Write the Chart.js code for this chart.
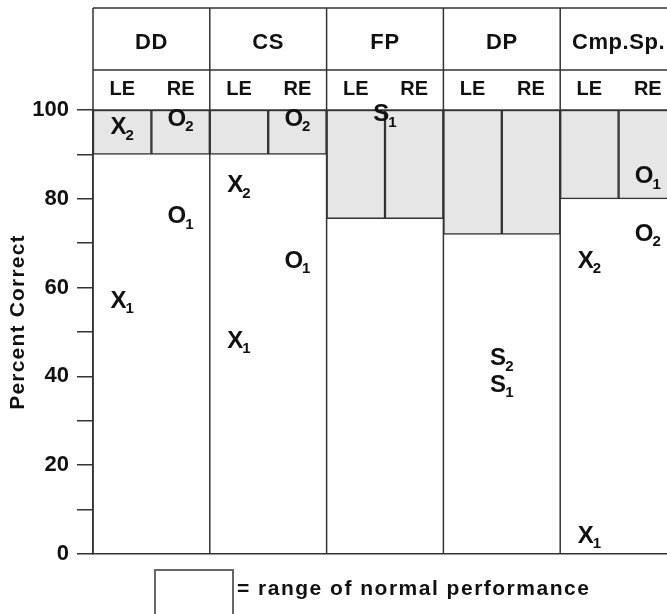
<!DOCTYPE html>
<html>
<head>
    <title>Percent Correct by Task</title>
    <meta charset="utf-8">
    <script src="https://cdn.jsdelivr.net/npm/chart.js"></script>
    <style>
        body {
            margin: 0;
            overflow: hidden;
            background: #fff;
        }

        #chart-container {
            width: 677px;
            height: 614px;
        }
    </style>
</head>
<body>
    <div id="chart-container">
        <canvas id="scores" width="677" height="614"></canvas>
    </div>
    <script>
        // Task groups, each split into left eye / right eye columns
        var groups = ['DD', 'CS', 'FP', 'DP', 'Cmp.Sp.'];
        var eyes = ['LE', 'RE'];

        // Lower edge of the shaded box (top is 100), LE then RE for each group
        var rangeLow = [90, 90, 90, 90, 75.5, 75.5, 72, 72, 80, 80];

        // Scores: X = left eye, O = right eye, S = both eyes
        var X1 = [57, 48, null, null, 4];
        var X2 = [96, 83, null, null, 66];
        var O1 = [76, 66, null, null, 85];
        var O2 = [98, 98, null, null, 72];
        var S1 = [null, null, 99, 38, null];
        var S2 = [null, null, null, 44, null];

        var FONT = '"Liberation Sans", Arial, sans-serif';
        var INK = '#111';
        var LINE = '#333';

        // column centre inside group i: LE = .25, RE = .75, both = .5
        function markData(values, offset) {
            var out = [];
            values.forEach(function (v, i) {
                if (v !== null) out.push({ x: i + offset, y: v });
            });
            return out;
        }

        function marks(letter, sub, values, offset) {
            return {
                type: 'scatter',
                letter: letter,
                sub: sub,
                data: markData(values, offset),
                pointRadius: 0,
                pointHoverRadius: 0,
                showLine: false
            };
        }

        var boxData = rangeLow.map(function (lo, k) {
            return { x: Math.floor(k / 2) + (k % 2 ? 0.75 : 0.25), y: [lo, 100] };
        });

        // Header rows, symbol labels, y title and the legend key
        var decorPlugin = {
            id: 'decor',
            afterDatasetsDraw: function (chart) {
                var ctx = chart.ctx;
                var area = chart.chartArea;
                var xs = chart.scales.x;
                var headTop = 8, headMid = 70, right = chart.width;

                ctx.save();
                ctx.strokeStyle = LINE;
                ctx.lineWidth = 1.5;
                ctx.beginPath();
                [headTop, headMid, area.top].forEach(function (y) {
                    ctx.moveTo(area.left, y);
                    ctx.lineTo(right, y);
                });
                for (var i = 0; i <= groups.length; i++) {
                    var px = xs.getPixelForValue(i);
                    ctx.moveTo(px, headTop);
                    ctx.lineTo(px, area.bottom);
                }
                ctx.stroke();

                ctx.fillStyle = INK;
                ctx.textAlign = 'center';
                ctx.textBaseline = 'middle';
                ctx.font = 'bold 22px ' + FONT;
                ctx.letterSpacing = '0.6px';
                groups.forEach(function (g, i) {
                    ctx.fillText(g, xs.getPixelForValue(i + 0.5), 43);
                });
                ctx.letterSpacing = '0px';
                ctx.font = 'bold 20px ' + FONT;
                groups.forEach(function (g, i) {
                    ctx.fillText(eyes[0], xs.getPixelForValue(i + 0.25), 89);
                    ctx.fillText(eyes[1], xs.getPixelForValue(i + 0.75), 89);
                });

                // symbol labels with subscripts
                chart.data.datasets.forEach(function (ds, d) {
                    if (!ds.letter) return;
                    chart.getDatasetMeta(d).data.forEach(function (pt) {
                        ctx.font = 'bold 24px ' + FONT;
                        var w1 = ctx.measureText(ds.letter).width;
                        ctx.font = 'bold 15px ' + FONT;
                        var w2 = ctx.measureText(ds.sub).width;
                        var x0 = pt.x - (w1 + w2 - 1) / 2;
                        ctx.textAlign = 'left';
                        ctx.font = 'bold 24px ' + FONT;
                        ctx.fillText(ds.letter, x0, pt.y);
                        ctx.font = 'bold 15px ' + FONT;
                        ctx.fillText(ds.sub, x0 + w1 - 1, pt.y + 8);
                    });
                });

                // y axis title
                ctx.save();
                ctx.translate(18, 322);
                ctx.rotate(-Math.PI / 2);
                ctx.textAlign = 'center';
                ctx.font = 'bold 21px ' + FONT;
                ctx.letterSpacing = '1.2px';
                ctx.fillText('Percent Correct', 0, 0);
                ctx.restore();

                // legend key
                ctx.strokeStyle = '#666';
                ctx.lineWidth = 2;
                ctx.strokeRect(155, 570, 78, 60);
                ctx.textAlign = 'left';
                ctx.font = 'bold 21px ' + FONT;
                ctx.letterSpacing = '1.5px';
                ctx.fillText('= range of normal performance', 237, 589);
                ctx.restore();
            }
        };

        var ctx = document.getElementById('scores').getContext('2d');
        var scoreChart = new Chart(ctx, {
            type: 'bar',
            data: {
                datasets: [{
                    label: 'normal range',
                    data: boxData,
                    backgroundColor: '#e6e6e6',
                    borderColor: LINE,
                    borderWidth: 1.5,
                    borderSkipped: false,
                    categoryPercentage: 1,
                    barPercentage: 1
                },
                marks('X', '1', X1, 0.25),
                marks('X', '2', X2, 0.25),
                marks('O', '1', O1, 0.75),
                marks('O', '2', O2, 0.75),
                marks('S', '1', S1, 0.5),
                marks('S', '2', S2, 0.5)]
            },
            options: {
                responsive: false,
                animation: false,
                devicePixelRatio: 1,
                layout: {
                    padding: { top: 110, bottom: 60, left: 0, right: 0 }
                },
                plugins: {
                    legend: { display: false },
                    tooltip: { enabled: false }
                },
                scales: {
                    x: {
                        type: 'linear',
                        min: 0,
                        max: groups.length,
                        offset: false,
                        ticks: { display: false },
                        grid: { display: false, drawTicks: false },
                        border: { display: true, color: LINE, width: 1.5 },
                        afterFit: function (scale) { scale.height = 0; }
                    },
                    y: {
                        min: 0,
                        max: 100,
                        ticks: {
                            stepSize: 10,
                            padding: 8,
                            color: INK,
                            font: { family: FONT, size: 22, weight: 'bold' },
                            callback: function (v) { return v % 20 === 0 ? v : ''; }
                        },
                        grid: {
                            drawOnChartArea: false,
                            tickLength: 16,
                            color: LINE,
                            lineWidth: 1.5
                        },
                        border: { display: true, color: LINE, width: 1.5 },
                        afterFit: function (scale) { scale.width = 93; }
                    }
                }
            },
            plugins: [decorPlugin]
        });
    </script>
</body>
</html>
